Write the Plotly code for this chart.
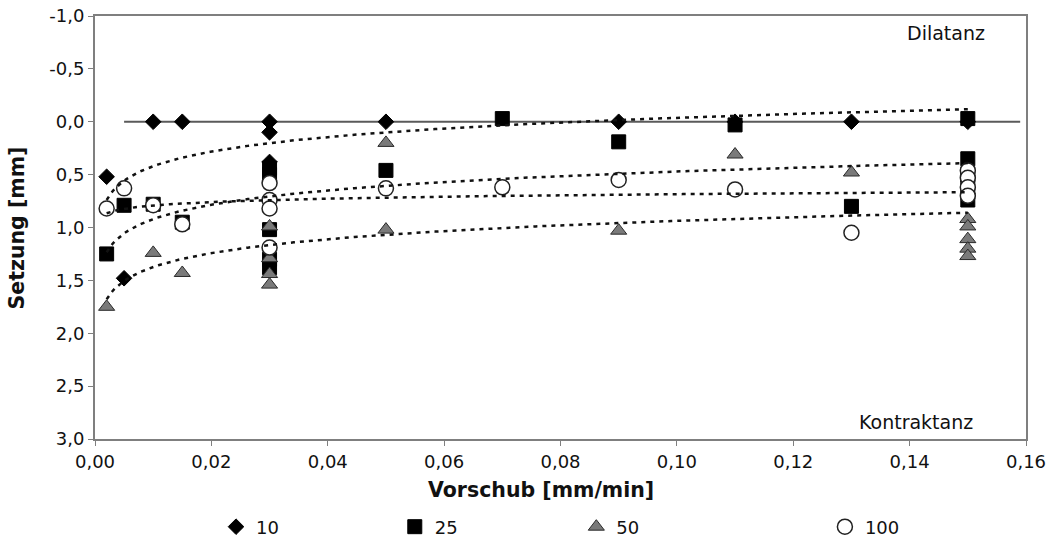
import numpy as np
import plotly.graph_objects as go

# Vorschub [mm/min] and Setzung [mm] per series
x10 = [0.002, 0.005, 0.01, 0.015, 0.03, 0.03, 0.03, 0.05, 0.09, 0.11, 0.13, 0.15]
y10 = [0.52, 1.48, 0.0, 0.0, 0.0, 0.10, 0.38, 0.0, 0.0, 0.0, 0.0, 0.0]

x25 = [0.002, 0.005, 0.01, 0.015, 0.03, 0.03, 0.03, 0.03, 0.03,
       0.05, 0.07, 0.09, 0.11, 0.13, 0.15, 0.15, 0.15, 0.15, 0.15]
y25 = [1.25, 0.79, 0.78, 0.95, 0.44, 0.50, 1.02, 1.30, 1.38,
       0.46, -0.03, 0.19, 0.03, 0.80, -0.03, 0.35, 0.50, 0.62, 0.74]

x50 = [0.002, 0.01, 0.015, 0.03, 0.03, 0.03, 0.03, 0.05, 0.05,
       0.09, 0.11, 0.13, 0.15, 0.15, 0.15, 0.15, 0.15]
y50 = [1.75, 1.24, 1.43, 0.99, 1.29, 1.44, 1.54, 0.20, 1.02,
       1.03, 0.31, 0.48, 0.92, 0.99, 1.11, 1.20, 1.27]

x100 = [0.002, 0.005, 0.01, 0.015, 0.03, 0.03, 0.03, 0.03,
        0.05, 0.07, 0.09, 0.11, 0.13, 0.15, 0.15, 0.15, 0.15]
y100 = [0.82, 0.63, 0.79, 0.97, 0.58, 0.74, 0.82, 1.19,
        0.63, 0.62, 0.55, 0.64, 1.05, 0.46, 0.53, 0.62, 0.70]

series_names = ["10", "25", "50", "100"]

# horizontal reference line at zero settlement
baseline_x = [0.005, 0.159]
baseline_y = [0.0, 0.0]

y_tickvals = [-1.0, -0.5, 0.0, 0.5, 1.0, 1.5, 2.0, 2.5, 3.0]
y_ticktext = ["-1,0", "-0,5", "0,0", "0,5", "1,0", "1,5", "2,0", "2,5", "3,0"]
x_tickvals = [0.0, 0.02, 0.04, 0.06, 0.08, 0.10, 0.12, 0.14, 0.16]
x_ticktext = ["0,00", "0,02", "0,04", "0,06", "0,08", "0,10", "0,12", "0,14", "0,16"]

FONT = "DejaVu Sans"
INK = "#111111"

styles = [
    dict(symbol="diamond", size=12, color="#000000", line=dict(color="#000000", width=1)),
    dict(symbol="square", size=14, color="#000000", line=dict(color="#000000", width=1)),
    dict(symbol="triangle-up", size=14, color="#7a7a7a", line=dict(color="#2a2a2a", width=1)),
    dict(symbol="circle", size=15, color="#ffffff", line=dict(color="#222222", width=1.5)),
]
legend_ids = ["legend", "legend2", "legend3", "legend4"]
data = [(x10, y10), (x25, y25), (x50, y50), (x100, y100)]

fig = go.Figure()

fig.add_trace(go.Scatter(x=baseline_x, y=baseline_y, mode="lines",
                         line=dict(color="#5a5a5a", width=2),
                         showlegend=False, hoverinfo="skip"))

for (xs, ys), name, st, lg in zip(data, series_names, styles, legend_ids):
    fig.add_trace(go.Scatter(x=xs, y=ys, mode="markers", name=name,
                             marker=st, legend=lg))

# logarithmic trendlines y = a*ln(x) + b, fitted to each series
for xs, ys in data:
    xa = np.asarray(xs)
    a, b = np.polyfit(np.log(xa), np.asarray(ys), 1)
    xt = np.linspace(xa.min(), xa.max(), 300)
    fig.add_trace(go.Scatter(x=xt, y=a * np.log(xt) + b, mode="lines",
                             line=dict(color=INK, width=2.5, dash="4px,5px"),
                             showlegend=False, hoverinfo="skip"))

legend_x = [0.130, 0.322, 0.517, 0.784]
legend_common = dict(orientation="h", y=-0.208, yanchor="middle", xanchor="left",
                     font=dict(family=FONT, size=18, color=INK),
                     bgcolor="rgba(0,0,0,0)")

fig.update_layout(
    width=1061, height=541,
    margin=dict(l=95, r=35, t=16, b=102, autoexpand=False),
    paper_bgcolor="white", plot_bgcolor="white",
    font=dict(family=FONT, size=18, color=INK),
    legend=dict(x=legend_x[0], **legend_common),
    legend2=dict(x=legend_x[1], **legend_common),
    legend3=dict(x=legend_x[2], **legend_common),
    legend4=dict(x=legend_x[3], **legend_common),
    annotations=[
        dict(text="<b>Setzung [mm]</b>", xref="paper", yref="paper",
             x=-0.0838, y=0.5, xanchor="center", yanchor="middle",
             textangle=-90, showarrow=False,
             font=dict(family=FONT, size=20.5, color=INK)),
        dict(text="<b>Vorschub [mm/min]</b>", xref="paper", yref="paper",
             x=0.479, y=-0.12, xanchor="center", yanchor="middle",
             showarrow=False,
             font=dict(family=FONT, size=20.5, color=INK)),
        dict(text="Dilatanz", xref="paper", yref="paper", x=0.958, y=0.96,
             xanchor="right", yanchor="middle", showarrow=False,
             font=dict(family=FONT, size=19, color=INK)),
        dict(text="Kontraktanz", xref="paper", yref="paper", x=0.945, y=0.04,
             xanchor="right", yanchor="middle", showarrow=False,
             font=dict(family=FONT, size=19, color=INK)),
    ],
)

fig.update_xaxes(range=[0, 0.16], tickvals=x_tickvals, ticktext=x_ticktext,
                 showgrid=False, zeroline=False, showline=True, mirror=True,
                 linecolor="#7f7f7f", linewidth=2, ticks="outside", ticklen=5,
                 tickcolor="#7f7f7f", automargin=False)
fig.update_yaxes(range=[3, -1], tickvals=y_tickvals, ticktext=y_ticktext,
                 showgrid=False, zeroline=False, showline=True, mirror=True,
                 linecolor="#7f7f7f", linewidth=2, ticks="outside", ticklen=5,
                 tickcolor="#7f7f7f", automargin=False)

fig.write_html("out.html")
